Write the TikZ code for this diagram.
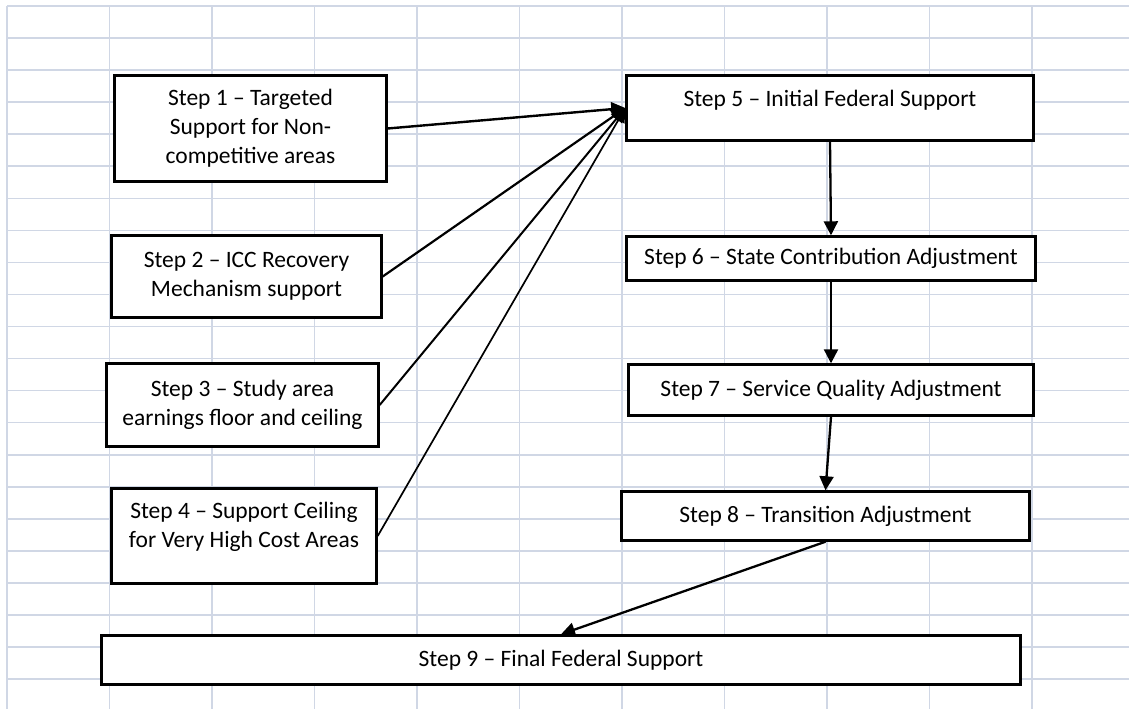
\documentclass[tikz,border=0pt]{standalone}
\usepackage{fontspec}
\setmainfont{Carlito}
\usetikzlibrary{arrows.meta}
\definecolor{gridc}{HTML}{D0D7E5}
\tikzset{
  gridline/.style={draw=gridc, line width=1.6pt},
  stepbox/.style={draw=black, fill=white, line width=2.4pt, rectangle, align=center, inner sep=0pt,
    font=\fontsize{23.5}{29}\selectfont},
  conn/.style={draw=black, line width=2.3pt, -{Triangle[length=14pt,width=14pt]}},
}
\begin{document}
\begin{tikzpicture}[x=1pt,y=-1pt]
\useasboundingbox (0,0) rectangle (1129,709);
\fill[white] (0,0) rectangle (1129,709);
% spreadsheet grid
\foreach \k in {0,...,21} \draw[gridline] (7,{6+32.05*\k}) -- (1129,{6+32.05*\k});
\foreach \k in {0,...,10} \draw[gridline] ({7+102.5*\k},6) -- ({7+102.5*\k},709);
% boxes
\node[stepbox, minimum width=272pt, minimum height=106pt] (s1) at (250.5,128.5) {Step 1 – Targeted\\Support for Non-\\competitive areas};
\node[stepbox, minimum width=270pt, minimum height=82pt] (s2) at (246.5,276.5) {Step 2 – ICC Recovery\\Mechanism support};
\node[stepbox, minimum width=272pt, minimum height=83pt] (s3) at (242.5,405) {Step 3 – Study area\\earnings floor and ceiling};
\node[stepbox, minimum width=265pt, minimum height=95pt] (s4) at (244,536) {\rule{0pt}{23pt}Step 4 – Support Ceiling\\for Very High Cost Areas\\\mbox{}};
\node[stepbox, minimum width=407pt, minimum height=65pt] (s5) at (830,108) {\rule{0pt}{25pt}Step 5 – Initial Federal Support\\\mbox{}};
\node[stepbox, minimum width=409pt, minimum height=44pt] (s6) at (831,258.5) {Step 6 – State Contribution Adjustment};
\node[stepbox, minimum width=405pt, minimum height=51pt] (s7) at (831,390) {Step 7 – Service Quality Adjustment};
\node[stepbox, minimum width=408pt, minimum height=49pt] (s8) at (825.5,516) {Step 8 – Transition Adjustment};
\node[stepbox, minimum width=919pt, minimum height=49pt] (s9) at (561,660) {Step 9 – Final Federal Support};
% connectors
\draw[conn, line width=2.4pt] (s1.east) -- (s5.west);
\draw[conn, line width=2.2pt] (s2.east) -- (s5.west);
\draw[conn, line width=2pt] (s3.east) -- (s5.west);
\draw[conn, line width=1.7pt] (s4.east) -- (s5.west);
\draw[conn] (s5.south) -- (s6.north);
\draw[conn] (s6.south) -- (s7.north);
\draw[conn] (s7.south) -- (s8.north);
\draw[conn] (s8.south) -- (s9.north);
\end{tikzpicture}
\end{document}
